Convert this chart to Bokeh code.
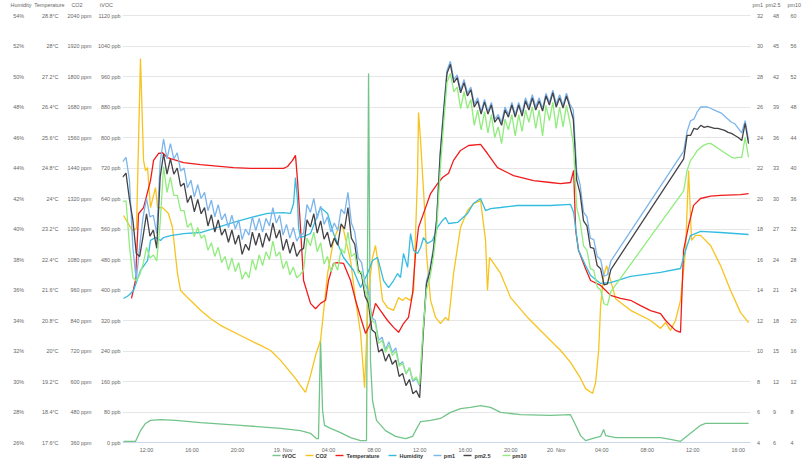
from bokeh.plotting import figure
from bokeh.models import Range1d, LinearAxis, FixedTicker, Grid
from bokeh.embed import file_html
from bokeh.resources import INLINE

FONT = "Liberation Sans"
NB = "\u00a0"

# ---- time axis (hours since 18 Nov 00:00) ----
x_ticks = [12, 16, 20, 24, 28, 32, 36, 40, 44, 48, 52, 56, 60, 64]
x_tick_labels = ["12:00", "16:00", "20:00", "19. Nov", "04:00", "08:00", "12:00",
                 "16:00", "20:00", "20. Nov", "04:00", "08:00", "12:00", "16:00"]

# ---- axis ticks ----
humidity_ticks = [26, 28, 30, 32, 34, 36, 38, 40, 42, 44, 46, 48, 50, 52, 54]
humidity_labels = ["26%", "28%", "30%", "32%", "34%", "36%", "38%", "40%", "42%", "44%",
                   "46%", "48%", "50%", "52%", "54%"]
temp_ticks = [17.6, 18.4, 19.2, 20, 20.8, 21.6, 22.4, 23.2, 24, 24.8, 25.6, 26.4, 27.2, 28, 28.8]
temp_labels = ["17.6°C", "18.4°C", "19.2°C", "20°C", "20.8°C", "21.6°C", "22.4°C", "23.2°C",
               "24°C", "24.8°C", "25.6°C", "26.4°C", "27.2°C", "28°C", "28.8°C"]
co2_ticks = [360, 480, 600, 720, 840, 960, 1080, 1200, 1320, 1440, 1560, 1680, 1800, 1920, 2040]
co2_labels = [f"{v} ppm" for v in co2_ticks]
tvoc_ticks = [0, 80, 160, 240, 320, 400, 480, 560, 640, 720, 800, 880, 960, 1040, 1120]
tvoc_labels = [f"{v} ppb" for v in tvoc_ticks]
pm1_ticks = [4, 6, 8, 10, 12, 14, 16, 18, 20, 22, 24, 26, 28, 30, 32]
pm25_ticks = [6, 9, 12, 15, 18, 21, 24, 27, 30, 33, 36, 39, 42, 45, 48]
pm10_ticks = [4, 8, 12, 16, 20, 24, 28, 32, 36, 40, 44, 48, 52, 56, 60]

series_names = ["tVOC", "CO2", "Temperature", "Humidity", "pm1", "pm2.5", "pm10"]
series_colors = ["#72c489", "#f7c31e", "#f01c1c", "#33bce0", "#7cb5ec", "#434348", "#90ed7d"]

# ---- tVOC (ppb) ----
tvoc_hours = [9.98, 11.03, 11.47, 11.91, 12.35, 13.23, 14.55, 16.75, 20.26, 23.78, 25.53, 26.41,
              26.94, 27.11, 27.29, 27.47, 27.64, 28.17, 29.05, 29.93, 30.81, 31.33, 31.51, 31.68,
              31.86, 32.21, 33.0, 33.88, 34.76, 35.38, 35.64, 36.08, 36.96, 37.83, 38.71, 39.59,
              40.47, 41.35, 42.23, 43.11, 44.86, 47.5, 49.26, 49.71, 50.14, 50.58, 51.46, 51.9,
              52.17, 52.34, 53.22, 57.17, 58.04, 58.92, 59.8, 60.68, 61.12, 64.9]
tvoc = [2.6, 2.6, 31, 50, 58, 60, 58, 52, 45, 37, 31, 24,
        10, 10, 268, 84, 45, 37, 26, 13, 5, 5, 968, 215,
        110, 58, 31, 16, 10, 16, 31, 55, 58, 63, 79, 89,
        92, 97, 92, 79, 73, 71, 73, 45, 18, 5, 13, 16,
        34, 18, 13, 13, 8, 3, 24, 45, 50, 50]

# ---- CO2 (ppm) ----
co2_hours = [9.98, 10.33, 10.77, 11.12, 11.47, 11.74, 11.91, 12.09, 12.35, 12.79, 12.97, 13.41,
             13.93, 14.28, 14.72, 14.99, 15.87, 16.75, 17.62, 18.5, 20.26, 22.02, 22.9, 23.78,
             24.65, 25.09, 25.53, 25.97, 26.41, 26.85, 27.29, 27.91, 28.43, 28.87, 29.22, 29.93,
             30.37, 30.81, 31.16, 31.51, 31.86, 32.12, 32.39, 32.74, 33.18, 33.71, 34.15, 34.5,
             34.76, 35.2, 35.47, 35.82, 35.9, 36.08, 36.25, 36.43, 36.6, 36.96, 37.4, 37.83,
             38.27, 38.54, 38.98, 39.59, 40.21, 40.73, 41.35, 41.79, 41.96, 42.14, 43.11, 43.99,
             45.48, 47.5, 48.38, 49.26, 50.14, 50.58, 51.2, 51.46, 51.73, 51.9, 52.17, 52.43,
             52.78, 53.22, 54.53, 56.29, 57.17, 57.61, 58.04, 58.48, 58.92, 59.36, 59.63, 59.89,
             60.24, 60.68, 61.56, 62.44, 63.32, 64.2, 64.9]
co2 = [1253, 1226, 1194, 1202, 1871, 1470, 1430, 1442, 1284, 1363, 1284, 1284,
       1261, 1206, 1025, 958, 919, 880, 848, 821, 781, 742, 722, 683,
       636, 612, 584, 557, 624, 702, 761, 1025, 1155, 1206, 1214, 1076,
       919, 789, 576, 958, 1088, 1135, 1049, 919, 891, 880, 930, 919,
       930, 919, 958, 1418, 1658, 1548, 1418, 1284, 1104, 919, 852, 828,
       852, 840, 1025, 1206, 1273, 1300, 1312, 1155, 958, 1088, 1025, 930,
       852, 761, 722, 675, 612, 572, 553, 596, 722, 899, 1017, 1056,
       997, 926, 880, 840, 809, 832, 801, 840, 919, 1116, 1430, 1155,
       1175, 1175, 1135, 1056, 958, 871, 832]

# ---- Temperature (°C) ----
temp_hours = [10.68, 11.03, 11.3, 11.74, 12.35, 12.62, 13.05, 13.41, 13.85, 15.25, 16.75, 19.65,
              21.14, 24.04, 24.39, 24.83, 25.09, 25.27, 25.53, 25.8, 26.41, 26.85, 27.29, 27.73,
              27.99, 28.43, 28.78, 29.31, 29.93, 30.37, 30.81, 31.25, 31.68, 32.12, 32.56, 33.18,
              33.71, 34.15, 34.58, 35.02, 35.38, 35.64, 35.9, 36.34, 36.96, 37.57, 38.01, 38.54,
              38.98, 39.59, 40.3, 41.35, 41.96, 42.84, 44.25, 46.01, 47.5, 48.38, 49.26, 49.53,
              49.71, 49.96, 50.58, 51.02, 51.9, 52.78, 53.65, 54.53, 55.41, 56.29, 57.17, 57.61,
              58.04, 58.48, 58.92, 59.19, 59.63, 60.07, 60.68, 61.56, 62.44, 64.2, 64.9]
temperature = [21.38, 21.85, 23.6, 23.76, 24.47, 25.0, 25.18, 25.2, 25.07, 24.94, 24.89, 24.81,
               24.79, 24.79, 24.84, 25.0, 25.13, 24.47, 23.24, 21.85, 21.25, 21.11, 21.25, 21.33,
               21.85, 22.3, 22.32, 22.3, 21.85, 21.33, 20.88, 20.46, 20.72, 21.25, 21.06, 20.8,
               20.62, 20.49, 20.72, 20.88, 21.51, 22.56, 23.24, 23.61, 24.13, 24.39, 24.55, 24.66,
               25.0, 25.26, 25.39, 25.42, 25.18, 24.81, 24.6, 24.47, 24.42, 24.39, 24.42, 24.74,
               23.16, 22.64, 22.16, 21.85, 21.72, 21.46, 21.38, 21.33, 21.19, 21.06, 20.98, 20.8,
               20.67, 20.54, 20.49, 22.64, 23.29, 23.82, 24.0, 24.06, 24.08, 24.1, 24.13]

# ---- Humidity (%) ----
humidity_hours = [9.98, 10.42, 10.86, 11.47, 12.09, 12.35, 12.79, 13.23, 13.49, 14.11, 15.25, 16.75,
                  18.24, 19.65, 21.14, 22.63, 24.04, 24.65, 24.92, 25.09, 25.27, 25.36, 25.53, 26.41,
                  27.29, 27.91, 28.43, 29.31, 30.19, 30.81, 31.42, 31.86, 32.3, 32.83, 33.27, 33.71,
                  34.06, 34.32, 34.58, 34.94, 35.2, 35.47, 35.82, 36.08, 36.34, 36.69, 37.13, 37.57,
                  38.01, 38.27, 38.54, 39.33, 40.21, 40.73, 41.35, 41.79, 42.23, 43.11, 44.6, 47.5,
                  49.26, 49.53, 49.96, 50.58, 51.02, 51.9, 52.78, 54.53, 57.17, 58.92, 59.36, 59.8,
                  60.68, 62.44, 64.9]
humidity = [35.44, 35.64, 35.97, 37.28, 37.93, 39.25, 39.44, 39.25, 39.44, 39.57, 39.7, 39.77,
            40.1, 40.43, 40.75, 41.02, 41.08, 41.02, 41.67, 43.38, 41.87, 40.1, 39.44, 39.7,
            41.41, 41.02, 39.7, 38.13, 37.28, 36.16, 37.08, 37.93, 38.13, 36.62, 36.16, 36.62,
            37.08, 36.82, 38.39, 37.48, 39.7, 38.59, 38.39, 38.79, 39.44, 39.05, 39.25, 40.1,
            40.56, 40.75, 40.36, 40.43, 41.02, 41.67, 42.0, 41.21, 41.34, 41.41, 41.54, 41.54,
            41.61, 41.08, 38.59, 37.61, 36.95, 36.43, 36.49, 36.89, 37.15, 37.41, 38.59, 39.57,
            39.84, 39.77, 39.64]

# ---- particulate matter: two sampled stretches, 0.3 h apart ----
pm25_a = [32.1, 32.5, 29.9, 27.9, 24.6, 24.3, 26.3, 28.5, 26.3, 26.9,
          25.1, 32.1, 34.4, 32.4, 33.9, 32.4, 33.0, 31.2, 31.5, 29.6,
          30.3, 28.7, 29.9, 28.5, 29.1, 27.3, 28.4, 26.7, 27.9, 26.4,
          27.0, 25.7, 26.9, 25.5, 26.4, 24.5, 25.5, 24.9, 26.7, 25.4,
          26.6, 25.2, 26.6, 25.8, 27.6, 26.1, 26.9, 24.9, 26.0, 24.6,
          25.7, 24.3, 24.9, 25.1, 27.9, 27.2, 28.5, 26.6, 27.8, 26.0,
          26.7, 25.2, 26.1, 25.4, 27.5, 27.0, 29.1, 26.1, 25.5, 23.0,
          22.5, 20.4, 19.7, 17.1, 16.8, 14.9, 15.2, 14.0, 14.7, 13.7,
          14.1, 12.5, 12.8, 11.6, 12.2, 10.8, 11.1, 10.4, 16.5, 21.6,
          22.8, 24.8, 27.9, 34.2, 38.4, 42.3, 43.2, 41.4, 41.9, 40.4,
          41.4, 40.1, 40.7, 39.0, 39.6, 38.3, 39.5, 38.3, 39.2, 37.5,
          38.0, 37.2, 38.7, 38.0, 39.2, 38.0, 39.2, 38.1, 39.6, 38.7,
          39.9, 38.7, 39.6, 38.6, 40.1, 39.2, 40.4, 39.0, 39.9, 38.9,
          40.1, 39.0, 37.8, 31.8, 30.5, 27.8, 27.3, 25.2, 25.1, 23.4,
          23.1, 21.5, 21.6, 23.0]
pm25_b = [33.9, 36.2, 36.2, 36.9, 36.8, 37.2, 37.0, 37.1, 37.0, 36.9,
          36.9, 36.8, 36.7, 36.5, 36.4, 36.2, 36.0, 35.7, 37.4, 35.4]

pm1_a = [22.4, 22.7, 21.2, 16.8, 14.6, 16.9, 18.8, 20.0, 18.8, 18.9,
         17.7, 22.4, 23.9, 22.6, 23.6, 22.6, 23.0, 21.8, 22.0, 20.7,
         21.2, 20.1, 20.9, 20.0, 20.4, 19.2, 19.9, 18.8, 19.6, 18.6,
         19.0, 18.1, 18.9, 18.0, 18.6, 17.3, 18.0, 17.6, 18.8, 17.9,
         18.7, 17.8, 18.7, 18.2, 19.4, 18.4, 18.9, 17.6, 18.3, 17.4,
         18.1, 17.2, 17.6, 17.7, 19.6, 19.1, 20.0, 18.7, 19.5, 18.3,
         18.8, 17.8, 18.4, 17.9, 19.3, 19.0, 20.4, 18.4, 17.8, 16.1,
         15.8, 14.4, 13.9, 12.2, 12.0, 10.7, 10.9, 10.1, 10.6, 9.9,
         10.2, 9.1, 9.3, 8.5, 8.9, 8.0, 8.2, 7.7, 11.2, 14.6,
         15.4, 16.7, 18.8, 23.0, 25.8, 28.4, 29.0, 27.8, 28.1, 27.1,
         27.8, 26.9, 27.3, 26.2, 26.6, 25.7, 26.5, 25.7, 26.3, 25.2,
         25.5, 25.0, 26.0, 25.5, 26.3, 25.5, 26.3, 25.6, 26.6, 26.0,
         26.8, 26.0, 26.6, 25.9, 26.9, 26.3, 27.1, 26.2, 26.8, 26.1,
         26.9, 26.2, 25.8, 21.8, 20.9, 19.1, 18.8, 17.4, 17.3, 16.2,
         16.0, 14.9, 15.0, 15.9]
pm1_b = [23.1, 24.4, 25.1, 25.2, 25.7, 26.0, 26.0, 26.0, 25.9, 25.8,
         25.7, 25.6, 25.4, 25.2, 25.0, 24.9, 24.6, 24.3, 25.1, 23.8]

pm10_a = [35.6, 35.7, 29.8, 25.6, 25.2, 26.0, 27.4, 29.6, 28.2, 28.6,
          27.8, 32.8, 40.2, 36.8, 38.8, 36.4, 36.4, 34.4, 34.4, 32.2,
          32.8, 31.0, 32.2, 30.8, 31.2, 29.2, 30.2, 28.4, 29.6, 27.6,
          28.4, 26.6, 28.2, 26.4, 27.6, 25.4, 26.4, 25.6, 28.0, 26.6,
          28.6, 27.2, 29.0, 28.0, 30.4, 28.4, 29.0, 26.8, 27.8, 26.0,
          27.0, 25.6, 26.0, 26.6, 30.8, 29.8, 31.6, 29.0, 30.2, 27.4,
          28.4, 26.4, 27.6, 26.6, 29.4, 28.8, 31.6, 28.4, 28.8, 26.2,
          26.4, 24.0, 23.0, 20.0, 19.6, 17.0, 17.4, 15.8, 16.8, 15.4,
          16.0, 14.0, 14.4, 13.0, 13.8, 12.2, 12.6, 11.6, 18.8, 24.0,
          25.6, 28.2, 32.0, 39.6, 45.6, 51.2, 52.4, 50.0, 50.6, 47.8,
          50.0, 47.8, 49.0, 45.6, 47.6, 45.0, 47.4, 44.6, 47.0, 44.0,
          45.4, 43.2, 46.4, 45.0, 47.0, 44.2, 47.0, 44.8, 47.6, 46.0,
          48.0, 45.2, 47.6, 44.2, 48.2, 46.2, 48.6, 45.2, 48.0, 45.4,
          48.2, 46.0, 43.2, 34.8, 33.0, 29.8, 29.2, 26.8, 26.6, 24.4,
          24.0, 22.2, 22.0, 23.8]
pm10_b = [37.0, 39.7, 41.0, 41.6, 42.3, 42.7, 43.0, 43.2, 43.2, 42.9,
          42.6, 42.3, 42.0, 41.7, 41.4, 41.3, 41.4, 41.4, 44.0, 41.4]

pm_start_a, pm_start_b, pm_step = 9.9, 59.2, 0.3
pm_hours = ([round(pm_start_a + pm_step * i, 2) for i in range(len(pm25_a))] +
            [round(pm_start_b + pm_step * k, 2) for k in range(len(pm25_b))])
pm1 = pm1_a + pm1_b
pm25 = pm25_a + pm25_b
pm10 = pm10_a + pm10_b

# ---- geometry of the plot frame ----
FRAME_H = 442      # frame runs from the canvas top to the bottom gridline
FRAME_L, FRAME_R = 122, 750
X0, X1 = 9.89, 65.07
GRID_PX = 30.5     # pixels between two gridlines
HEADER_Y = 4       # axis titles sit in a row near the very top
LABEL_SIZE = "5.4px"


def span(bottom, step):
    top = bottom + FRAME_H / GRID_PX * step
    head = bottom + (FRAME_H - HEADER_Y) / GRID_PX * step
    return top, head


def px_to_x(px):
    return X0 + (px - FRAME_L) * (X1 - X0) / (FRAME_R - FRAME_L)


p = figure(width=807, height=462, output_backend="svg", toolbar_location=None,
           x_range=Range1d(X0, X1), y_range=Range1d(26, span(26, 2)[0]),
           y_axis_location=None, min_border_left=FRAME_L, min_border_right=807 - FRAME_R,
           min_border_top=0, min_border_bottom=20,
           background_fill_color="white", border_fill_color="white")
p.outline_line_color = None
p.xgrid.visible = False
p.ygrid.visible = False
p.extra_y_ranges = {"temp": Range1d(17.6, span(17.6, 0.8)[0]),
                    "co2": Range1d(360, span(360, 120)[0]),
                    "tvoc": Range1d(0, span(0, 80)[0]),
                    "pm1": Range1d(4, span(4, 2)[0]),
                    "pm25": Range1d(6, span(6, 3)[0]),
                    "pm10": Range1d(4, span(4, 4)[0])}

p.add_layout(Grid(dimension=1, ticker=FixedTicker(ticks=humidity_ticks),
                  grid_line_color="#e6e6e6", grid_line_width=1), "center")


def make_axis(rng, ticks, labels, title, step, standoff, side, pad_num, pad_title):
    head = span(ticks[0], step)[1]
    if side == "left":
        labs = [t + NB * pad_num for t in labels]
        ttl = title + NB * pad_title
    else:
        labs = [NB * pad_num + t for t in labels]
        ttl = NB * pad_title + title
    all_ticks = list(ticks) + [head]
    overrides = dict(zip(all_ticks, labs + [ttl]))
    return LinearAxis(y_range_name=rng, ticker=FixedTicker(ticks=all_ticks),
                      major_label_overrides=overrides,
                      axis_line_color=None, major_tick_line_color=None,
                      minor_tick_line_color=None, major_tick_out=0, major_tick_in=0,
                      minor_tick_out=0, minor_tick_in=0,
                      major_label_standoff=standoff, major_label_text_font=FONT,
                      major_label_text_font_size=LABEL_SIZE,
                      major_label_text_color="#666666")


p.add_layout(make_axis("tvoc", tvoc_ticks, tvoc_labels, "tVOC", 80, 2, "left", 0, 5), "left")
p.add_layout(make_axis("co2", co2_ticks, co2_labels, "CO2", 120, 4, "left", 0, 6), "left")
p.add_layout(make_axis("temp", temp_ticks, temp_labels, "Temperature", 0.8, 0, "left", 4, 0), "left")
p.add_layout(make_axis("default", humidity_ticks, humidity_labels, "Humidity", 2, 0, "left", 5, 0), "left")
p.add_layout(make_axis("pm1", pm1_ticks, [str(v) for v in pm1_ticks], "pm1", 2, 2, "right", 3, 0), "right")
p.add_layout(make_axis("pm25", pm25_ticks, [str(v) for v in pm25_ticks], "pm2.5", 3, 0, "right", 5, 0), "right")
p.add_layout(make_axis("pm10", pm10_ticks, [str(v) for v in pm10_ticks], "pm10", 4, 4, "right", 2, 0), "right")

xa = p.xaxis[0]
xa.ticker = FixedTicker(ticks=x_ticks)
xa.major_label_overrides = dict(zip(x_ticks, x_tick_labels))
xa.axis_line_color = "#ccd6eb"
xa.major_tick_line_color = None
xa.minor_tick_line_color = None
xa.major_tick_out = 0
xa.major_tick_in = 0
xa.major_label_standoff = 4
xa.major_label_text_font = FONT
xa.major_label_text_font_size = LABEL_SIZE
xa.major_label_text_color = "#666666"

LW = 1.3
p.line(tvoc_hours, tvoc, y_range_name="tvoc", line_color=series_colors[0], line_width=LW)
p.line(co2_hours, co2, y_range_name="co2", line_color=series_colors[1], line_width=LW)
p.line(temp_hours, temperature, y_range_name="temp", line_color=series_colors[2], line_width=LW)
p.line(humidity_hours, humidity, line_color=series_colors[3], line_width=LW)
p.line(pm_hours, pm1, y_range_name="pm1", line_color=series_colors[4], line_width=LW)
p.line(pm_hours, pm25, y_range_name="pm25", line_color=series_colors[5], line_width=LW)
p.line(pm_hours, pm10, y_range_name="pm10", line_color=series_colors[6], line_width=LW)

# ---- legend row under the time axis, built from bare axes ----
# spacer band below the time labels
p.add_layout(LinearAxis(ticker=FixedTicker(ticks=[]), axis_line_color=None,
                        major_tick_line_color=None, minor_tick_line_color=None,
                        major_tick_out=7, major_tick_in=0, minor_tick_out=0, minor_tick_in=0,
                        major_label_standoff=0), "below")
# coloured key strokes (pixel spans of each key symbol)
key_spans = [(272, 280), (305, 313), (335, 343), (388, 396), (433, 441), (463, 471), (502, 510)]
for (a, b), col in zip(key_spans, series_colors):
    p.add_layout(LinearAxis(ticker=FixedTicker(ticks=[]), bounds=(px_to_x(a), px_to_x(b)),
                            axis_line_color=col, axis_line_width=1.4,
                            major_tick_line_color=None, minor_tick_line_color=None,
                            major_tick_out=0, major_tick_in=0, minor_tick_out=0,
                            minor_tick_in=0, major_label_standoff=0), "below")
# key labels, centred on their pixel positions
key_label_px = [288.6, 320.7, 362.4, 410.8, 449.0, 482.0, 518.9]
key_ticks = [px_to_x(v) for v in key_label_px]
p.add_layout(LinearAxis(ticker=FixedTicker(ticks=key_ticks),
                        major_label_overrides=dict(zip(key_ticks, series_names)),
                        axis_line_color=None, major_tick_line_color=None,
                        minor_tick_line_color=None, major_tick_out=0, major_tick_in=0,
                        minor_tick_out=0, minor_tick_in=0, major_label_standoff=-3,
                        major_label_text_font=FONT, major_label_text_font_size="5.5px",
                        major_label_text_font_style="bold",
                        major_label_text_color="#333333"), "below")

open("out.html", "w").write(file_html(p, INLINE))
